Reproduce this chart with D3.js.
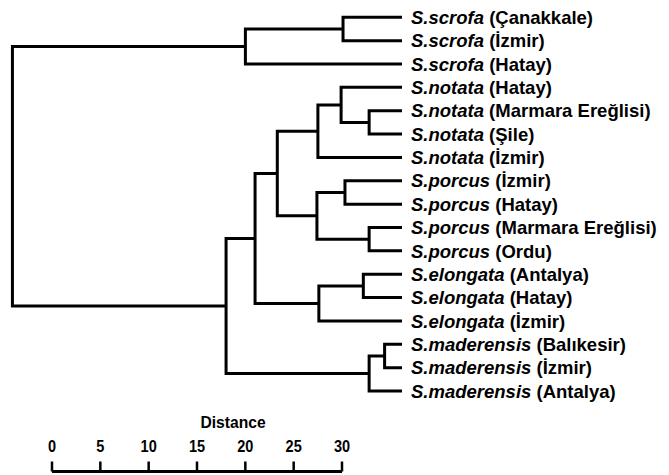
<!DOCTYPE html>
<html>
<head>
<meta charset="utf-8">
<script src="https://cdn.jsdelivr.net/npm/d3@7"></script>
<style>
  body { margin: 0; background: #fff; }
  svg { display: block; font-family: "Liberation Sans", Arial, sans-serif; }
</style>
</head>
<body>
<svg id="chart" width="669" height="475"></svg>
<script>
// leaves, top to bottom
var species = ['S.scrofa','S.scrofa','S.scrofa','S.notata','S.notata','S.notata','S.notata',
  'S.porcus','S.porcus','S.porcus','S.porcus','S.elongata','S.elongata','S.elongata',
  'S.maderensis','S.maderensis','S.maderensis'];
var places = ['Çanakkale','İzmir','Hatay','Hatay','Marmara Ereğlisi','Şile','İzmir',
  'İzmir','Hatay','Marmara Ereğlisi','Ordu','Antalya','Hatay','İzmir',
  'Balıkesir','İzmir','Antalya'];

// merges: [left child, right child, distance]; leaves are 0..16, merges are 17..
var merges = [
  [0, 1, 6.1],      // 17
  [17, 2, 16.2],    // 18
  [4, 5, 3.4],      // 19
  [3, 19, 6.3],     // 20
  [20, 6, 8.7],     // 21
  [7, 8, 5.9],      // 22
  [9, 10, 3.4],     // 23
  [22, 23, 8.8],    // 24
  [21, 24, 12.9],   // 25
  [11, 12, 4.0],    // 26
  [26, 13, 8.6],    // 27
  [25, 27, 15.2],   // 28
  [14, 15, 1.8],    // 29
  [29, 16, 3.4],    // 30
  [28, 30, 18.2],   // 31
  [18, 31, 40.3]    // 32
];

var axisTicks = [0, 5, 10, 15, 20, 25, 30];

var svg = d3.select('#chart');

var y = d3.scalePoint()
    .domain(d3.range(species.length))
    .range([17.3, 391]);

// tree distance grows to the left from the leaf tips
var xTree = d3.scaleLinear().domain([0, 30]).range([402, 112]);
var xAxis = d3.scaleLinear().domain([0, 30]).range([52, 342]);

var nodes = species.map(function(s, i){ return {x: xTree(0), y: y(i)}; });
merges.forEach(function(m){
    var a = nodes[m[0]], b = nodes[m[1]];
    nodes.push({x: xTree(m[2]), y: (a.y + b.y) / 2, a: a, b: b});
});

svg.append('g')
    .selectAll('path')
    .data(nodes.filter(function(n){ return n.a; }))
    .enter()
    .append('path')
    .attr('d', function(n){
        return 'M' + n.a.x + ',' + n.a.y + 'H' + n.x + 'V' + n.b.y + 'H' + n.b.x;
    })
    .attr('fill', 'none')
    .attr('stroke', '#000')
    .attr('stroke-width', 3)
    .attr('stroke-linejoin', 'miter');

var labels = svg.append('g')
    .selectAll('text')
    .data(species)
    .enter()
    .append('text')
    .attr('x', 411)
    .attr('y', function(d, i){ return y(i); })
    .attr('dy', '0.36em')
    .style('font-size', '18.5px')
    .style('font-weight', 'bold');
labels.append('tspan').style('font-style', 'italic').text(function(d){ return d; });
labels.append('tspan').text(function(d, i){ return ' (' + places[i] + ')'; });

// distance scale bar
var axisY = 471.5;
svg.append('line')
    .attr('x1', xAxis(0)).attr('x2', xAxis(30))
    .attr('y1', axisY).attr('y2', axisY)
    .attr('stroke', '#000').attr('stroke-width', 3);

svg.append('g')
    .selectAll('line')
    .data(axisTicks)
    .enter()
    .append('line')
    .attr('x1', function(d){ return xAxis(d); })
    .attr('x2', function(d){ return xAxis(d); })
    .attr('y1', axisY).attr('y2', axisY - 10)
    .attr('stroke', '#000').attr('stroke-width', 2.5);

svg.append('g')
    .selectAll('text')
    .data(axisTicks)
    .enter()
    .append('text')
    .attr('transform', function(d){ return 'translate(' + xAxis(d) + ',452) scale(0.88,1)'; })
    .attr('text-anchor', 'middle')
    .style('font-size', '16.5px')
    .style('font-weight', 'bold')
    .text(function(d){ return d; });

svg.append('text')
    .attr('transform', 'translate(233,428) scale(0.92,1)')
    .attr('text-anchor', 'middle')
    .style('font-size', '17px')
    .style('font-weight', 'bold')
    .text('Distance');
</script>
</body>
</html>
